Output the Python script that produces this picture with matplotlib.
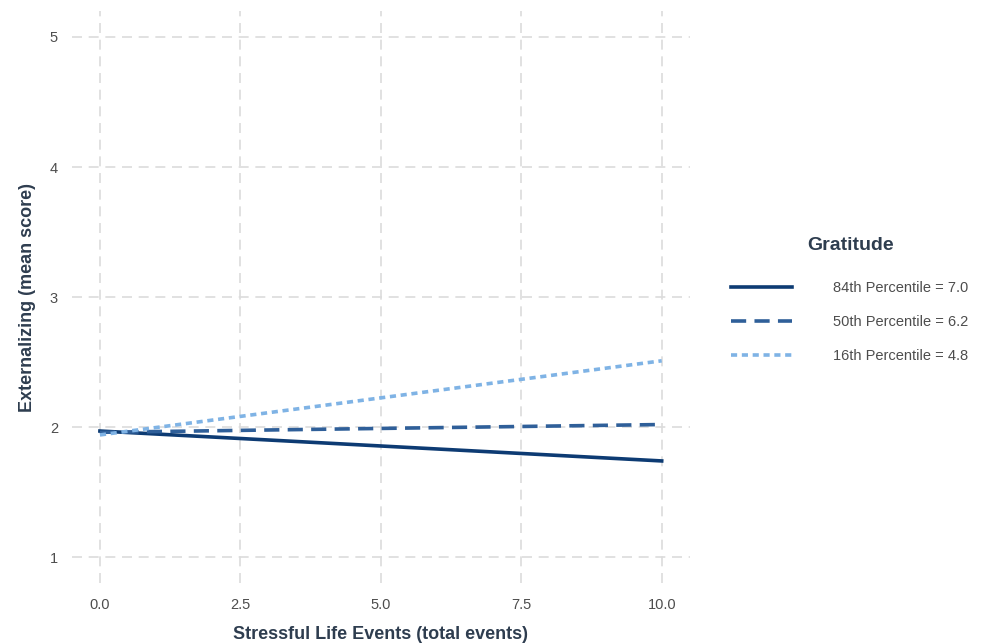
import matplotlib
matplotlib.use("Agg")
import matplotlib.pyplot as plt
from matplotlib.lines import Line2D

plt.rcParams['font.family'] = ['Liberation Sans', 'DejaVu Sans']

x_vals = [0.0, 10.0]
series_labels = ["84th Percentile = 7.0", "50th Percentile = 6.2", "16th Percentile = 4.8"]
legend_title = "Gratitude"
y_84 = [1.97, 1.74]
y_50 = [1.96, 2.02]
y_16 = [1.94, 2.51]
x_ticks = [0.0, 2.5, 5.0, 7.5, 10.0]
x_tick_labels = ["0.0", "2.5", "5.0", "7.5", "10.0"]
y_ticks = [1, 2, 3, 4, 5]

colors = ["#0D3B73", "#2F5F99", "#7FB3E5"]
styles = [dict(linestyle='-'), dict(linestyle=(0, (4.2, 2.3))), dict(linestyle=(0, (1.7, 1.3)))]

fig = plt.figure(figsize=(9.84, 6.43), dpi=100)
ax = fig.add_axes([0.073, 0.093, 0.628, 0.890])

for ys, lab, c, st in zip([y_84, y_50, y_16], series_labels, colors, styles):
    ax.plot(x_vals, ys, color=c, linewidth=2.6, label=lab, **st)

ax.set_xlim(-0.5, 10.5)
ax.set_ylim(0.8, 5.2)
ax.set_xticks(x_ticks)
ax.set_xticklabels(x_tick_labels)
ax.set_yticks(y_ticks)
ax.grid(True, color="#DCDCDC", linestyle=(0, (6, 4)), linewidth=1.2)
ax.set_axisbelow(True)
for s in ax.spines.values():
    s.set_visible(False)
ax.tick_params(length=0, labelsize=10.5, labelcolor="#4D4D4D")
ax.tick_params(axis='x', pad=11)
ax.tick_params(axis='y', pad=10)
ax.set_xlabel("Stressful Life Events (total events)", fontsize=13, fontweight='bold', color="#2E3D4F", labelpad=10)
ax.set_ylabel("Externalizing (mean score)", fontsize=13, fontweight='bold', color="#2E3D4F", labelpad=10)

handles = [Line2D([0], [0], color=c, linewidth=2.6, **st) for c, st in zip(colors, styles)]
leg = fig.legend(handles, series_labels, loc='center left',
                 bbox_to_anchor=(0.743, 1 - 322 / 643), frameon=False, fontsize=10.5,
                 handlelength=4.2, handletextpad=2.8, borderaxespad=0, borderpad=0,
                 labelspacing=1.36, labelcolor="#4D4D4D")
fig.text(851 / 984, 1 - 245 / 643, legend_title, ha='center', va='center',
         fontsize=14, fontweight='bold', color="#2E3D4F")

fig.savefig("out.png", dpi=100)
